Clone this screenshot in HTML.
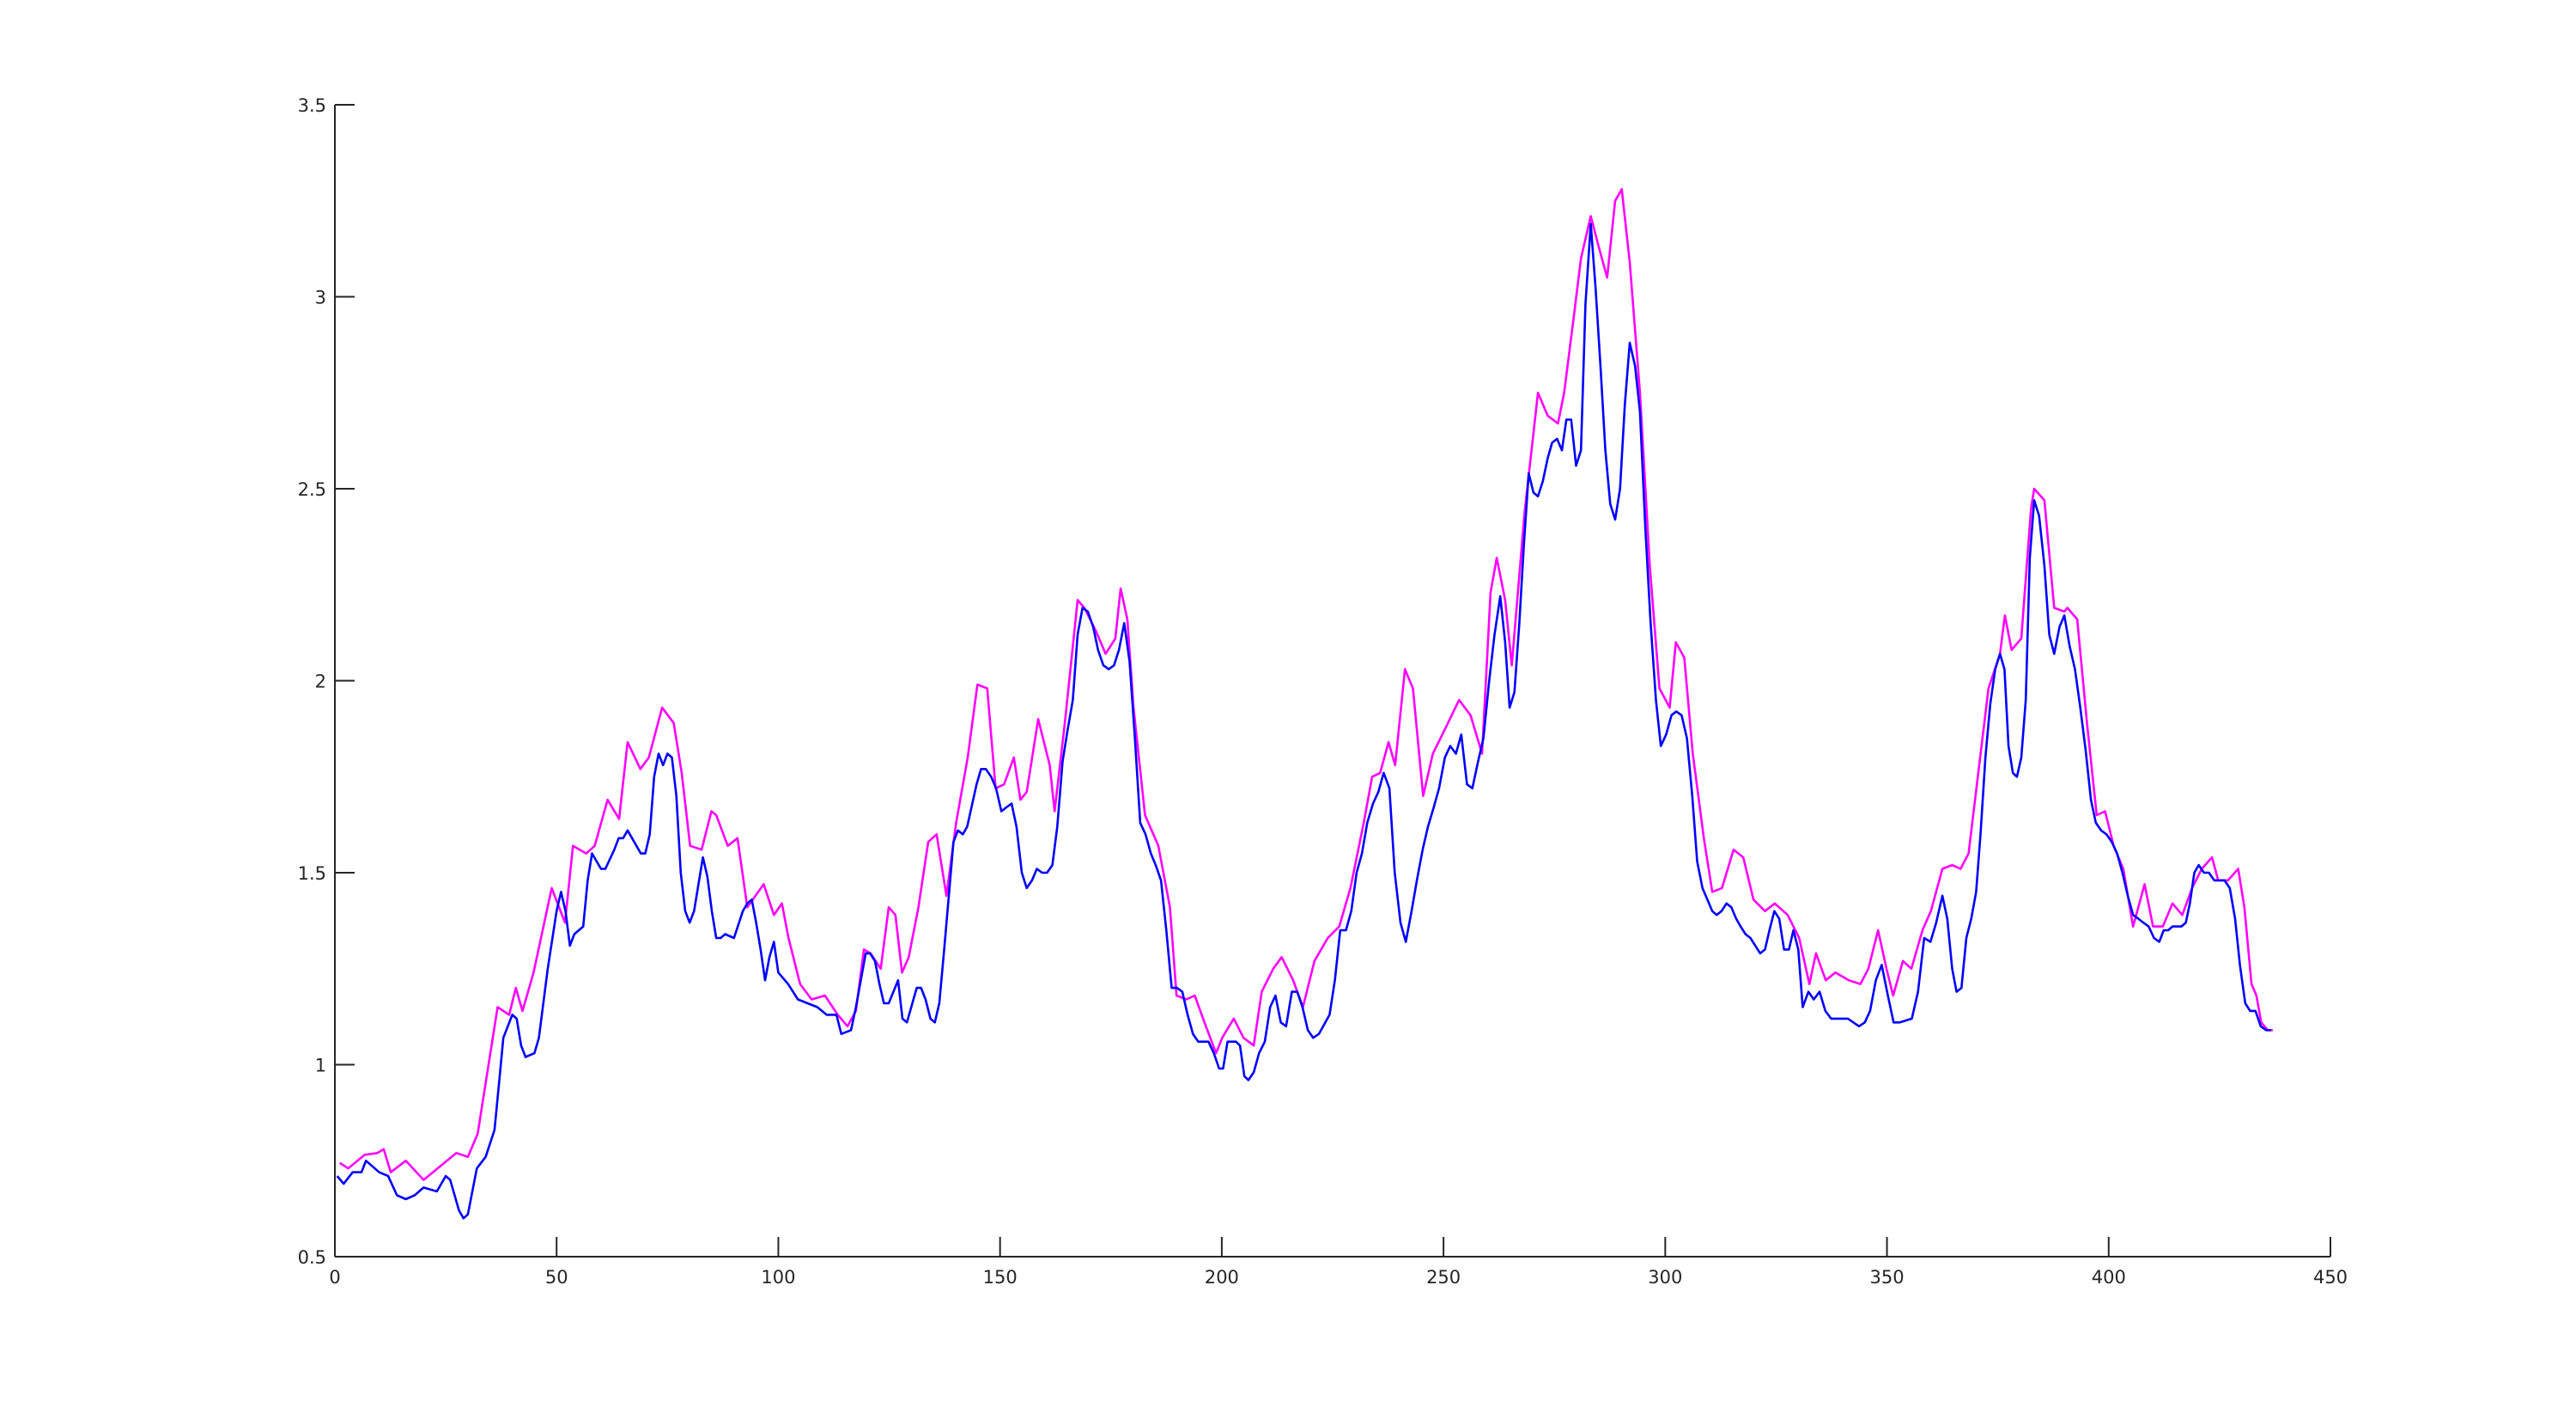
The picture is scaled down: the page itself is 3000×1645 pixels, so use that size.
<!DOCTYPE html>
<html><head><meta charset="utf-8"><style>
html,body{margin:0;padding:0;background:#fff;}
svg{display:block;font-family:"DejaVu Sans","Liberation Sans",sans-serif;}
</style></head><body>
<svg id="chart" width="3000" height="1645" viewBox="0 0 3000 1645" xmlns="http://www.w3.org/2000/svg">
<rect width="3000" height="1645" fill="#fff"/>
<g id="axes"></g>
<g id="series"></g>
</svg>
<script>
const xTicks = [0,50,100,150,200,250,300,350,400,450];
const yTicks = [0.5,1,1.5,2,2.5,3,3.5];
const yTickLabels = ["0.5","1","1.5","2","2.5","3","3.5"];
const blueX = [0.5,2,4,6,7,10,12,14,16,18,20,23,25,26,28,29,30,32,34,36,37,38,40,41,42,43,45,46,48,50,51,52,53,54,56,57,58,60,61,63,64,65,66,68,69,70,71,72,73,74,75,76,77,78,79,80,81,83,84,85,86,87,88,90,92,93,94,95,96,97,98,99,100,102.2,104.4,106.6,108.8,110.9,113.1,114.2,116.4,117.5,119.7,120.7,121.8,122.8,123.8,124.9,127,128,129,131.2,132.2,133.2,134.3,135.3,136.3,137.4,139.5,140.5,141.6,142.6,144.7,145.7,146.8,148,149.1,150.3,151.4,152.6,153.7,154.9,156,157.2,158.3,159.5,160.6,161.8,162.9,164.1,165.2,166.4,167.5,168.6,169.8,171,172.1,173.3,174.5,175.7,176.8,178,179.2,180.4,181.6,182.8,184,185.1,186.3,187.5,188.7,189.9,191.1,192.3,193.5,194.7,195.9,197,198.2,199.4,200.3,201.3,202.2,203.2,204.1,205.1,206,207.2,208.4,209.7,210.9,212.1,213.3,214.5,215.8,217,218.2,219.4,220.6,221.9,224.3,225.5,226.7,228,229.2,230.4,231.6,232.8,234.1,235.3,236.5,237.8,239,240.3,241.5,242.8,244,245.3,246.5,247.8,249,250.3,251.5,252.8,254,255.3,256.5,257.8,259,260.3,261.5,262.8,263.9,264.9,266,267.1,268.1,269.2,270.3,271.3,272.4,273.5,274.5,275.6,276.7,277.7,278.8,279.9,281,282,283.2,284.3,285.4,286.5,287.6,288.7,289.8,290.9,292,293.2,294.3,295.5,296.7,297.9,299,300.2,301.4,302.5,303.7,304.9,306.1,307.2,308.4,309.5,310.6,311.6,312.7,313.8,314.9,316,317,318.1,319.2,320.3,321.4,322.5,323.5,324.6,325.7,326.8,327.9,328.9,330,331,332.3,333.5,334.8,336.1,337.4,338.6,341.2,343.7,345,346.2,347.5,348.8,350.2,351.5,352.9,355.6,357,358.4,359.8,361.1,362.5,363.6,364.7,365.7,366.8,367.9,369,370.1,371.1,372.2,373.3,374.4,375.5,376.5,377.4,378.4,379.3,380.3,381.3,382.2,383.2,384.3,385.5,386.6,387.7,388.9,390,391.2,392.4,393.6,394.8,396,397.1,398.3,399.5,400.7,401.9,403.1,404.3,405.5,406.7,407.8,409,410.2,411.4,412.4,413.4,414.4,416.4,417.4,418.3,419.3,420.3,421.5,422.6,423.8,425,426.1,427.3,428.5,429.6,430.8,431.9,433.1,434.3,435.5,436.6];
const blueY = [0.71,0.69,0.72,0.72,0.75,0.72,0.71,0.66,0.65,0.66,0.68,0.67,0.71,0.70,0.62,0.60,0.61,0.73,0.76,0.83,0.95,1.07,1.13,1.12,1.05,1.02,1.03,1.07,1.25,1.40,1.45,1.40,1.31,1.34,1.36,1.48,1.55,1.51,1.51,1.56,1.59,1.59,1.61,1.57,1.55,1.55,1.60,1.75,1.81,1.78,1.81,1.80,1.70,1.50,1.40,1.37,1.40,1.54,1.49,1.40,1.33,1.33,1.34,1.33,1.40,1.42,1.43,1.37,1.30,1.22,1.28,1.32,1.24,1.21,1.17,1.16,1.15,1.13,1.13,1.08,1.09,1.15,1.29,1.29,1.27,1.21,1.16,1.16,1.22,1.12,1.11,1.20,1.20,1.17,1.12,1.11,1.16,1.30,1.58,1.61,1.60,1.62,1.73,1.77,1.77,1.75,1.72,1.66,1.67,1.68,1.62,1.50,1.46,1.48,1.51,1.50,1.50,1.52,1.62,1.79,1.87,1.95,2.12,2.19,2.18,2.14,2.08,2.04,2.03,2.04,2.08,2.15,2.05,1.85,1.63,1.60,1.55,1.52,1.48,1.35,1.20,1.20,1.19,1.13,1.08,1.06,1.06,1.06,1.03,0.99,0.99,1.06,1.06,1.06,1.05,0.97,0.96,0.98,1.03,1.06,1.15,1.18,1.11,1.10,1.19,1.19,1.15,1.09,1.07,1.08,1.13,1.22,1.35,1.35,1.40,1.50,1.55,1.63,1.68,1.71,1.76,1.72,1.50,1.37,1.32,1.40,1.48,1.56,1.62,1.67,1.72,1.80,1.83,1.81,1.86,1.73,1.72,1.79,1.85,2.00,2.12,2.22,2.10,1.93,1.97,2.15,2.35,2.54,2.49,2.48,2.52,2.58,2.62,2.63,2.60,2.68,2.68,2.56,2.60,2.98,3.19,3.02,2.82,2.60,2.46,2.42,2.50,2.72,2.88,2.82,2.70,2.40,2.15,1.95,1.83,1.86,1.91,1.92,1.91,1.85,1.70,1.53,1.46,1.43,1.40,1.39,1.40,1.42,1.41,1.38,1.36,1.34,1.33,1.31,1.29,1.30,1.35,1.40,1.38,1.30,1.30,1.35,1.30,1.15,1.19,1.17,1.19,1.14,1.12,1.12,1.12,1.10,1.11,1.14,1.22,1.26,1.18,1.11,1.11,1.12,1.19,1.33,1.32,1.37,1.44,1.38,1.25,1.19,1.20,1.33,1.38,1.45,1.60,1.80,1.94,2.03,2.07,2.03,1.83,1.76,1.75,1.80,1.95,2.32,2.47,2.43,2.30,2.12,2.07,2.14,2.17,2.09,2.03,1.93,1.82,1.69,1.63,1.61,1.60,1.58,1.55,1.50,1.44,1.39,1.38,1.37,1.36,1.33,1.32,1.35,1.35,1.36,1.36,1.37,1.42,1.50,1.52,1.50,1.50,1.48,1.48,1.48,1.46,1.38,1.26,1.16,1.14,1.14,1.10,1.09,1.09];
const magX = [1.1,3,6.7,9.6,11,12.6,16,20,23.7,27.4,30,32.2,36.7,39.3,40.8,42.3,44.8,48.9,51.9,53.7,56.7,58.6,61.5,64.1,66,68.9,70.8,73.8,76.4,78.2,80.1,82.7,84.9,86,88.6,90.8,93,96.7,99,100.8,102.3,104.9,107.5,110.5,113.4,115.6,117.5,119.3,120.8,123.1,124.9,126.4,127.9,129.4,131.6,133.8,135.7,137.9,140.1,142.7,144.9,147.1,149,150.9,153.1,154.6,156,158.6,161.2,162.3,164.6,167.5,169,171.6,173.8,176,177.2,178.7,180.1,182.7,185.7,188.3,189.8,192,193.9,196.1,198.7,200.1,202.7,204.9,207.2,209,211.6,213.5,216.1,218.3,220.9,223.9,226.5,229,232,233.9,235.7,237.6,239.1,241.3,243.1,245.4,247.6,250.6,253.5,256.1,258.7,260.6,262,263.9,265.4,268.3,271.3,273.5,275.8,277.2,279.5,281,283.2,285,286.9,288.7,290.2,292,294.3,296.5,298.7,301,302.4,304.3,306.2,308.7,310.6,312.8,315.4,317.6,319.9,322.5,324.7,327.6,330.2,332.5,334,336.2,338.4,341.4,344,345.8,348,349.9,351.4,353.6,355.5,358,359.9,362.5,364.7,366.6,368.4,370.6,372.9,375.5,376.6,378.1,380.3,382.5,383.2,385.5,387.7,390,390.7,392.9,395.1,397.3,399.2,401.1,403.3,405.5,408.1,410,412.2,414.4,416.6,418.8,421,423.3,424.7,426.9,429.2,430.6,432.2,433.3,434.4,435.9,437];
const magY = [0.744,0.73,0.765,0.77,0.78,0.72,0.75,0.70,0.735,0.77,0.76,0.82,1.15,1.13,1.20,1.14,1.24,1.46,1.37,1.57,1.55,1.57,1.69,1.64,1.84,1.77,1.80,1.93,1.89,1.76,1.57,1.56,1.66,1.65,1.57,1.59,1.41,1.47,1.39,1.42,1.33,1.21,1.17,1.18,1.13,1.10,1.14,1.30,1.29,1.25,1.41,1.39,1.24,1.28,1.41,1.58,1.60,1.44,1.63,1.80,1.99,1.98,1.72,1.73,1.80,1.69,1.71,1.90,1.78,1.66,1.89,2.21,2.19,2.13,2.07,2.11,2.24,2.16,1.93,1.65,1.57,1.41,1.18,1.17,1.18,1.11,1.03,1.07,1.12,1.07,1.05,1.19,1.25,1.28,1.22,1.15,1.27,1.33,1.36,1.46,1.63,1.75,1.76,1.84,1.78,2.03,1.98,1.70,1.81,1.88,1.95,1.91,1.81,2.23,2.32,2.21,2.04,2.44,2.75,2.69,2.67,2.75,2.96,3.10,3.21,3.13,3.05,3.25,3.28,3.09,2.75,2.30,1.98,1.93,2.10,2.06,1.81,1.59,1.45,1.46,1.56,1.54,1.43,1.40,1.42,1.39,1.33,1.21,1.29,1.22,1.24,1.22,1.21,1.25,1.35,1.25,1.18,1.27,1.25,1.35,1.40,1.51,1.52,1.51,1.55,1.76,1.98,2.07,2.17,2.08,2.11,2.45,2.50,2.47,2.19,2.18,2.19,2.16,1.89,1.65,1.66,1.57,1.51,1.36,1.47,1.36,1.36,1.42,1.39,1.46,1.51,1.54,1.48,1.48,1.51,1.41,1.21,1.18,1.11,1.09,1.09];

const NS = "http://www.w3.org/2000/svg";
const L = 390, R = 2714, T = 122, B = 1463;
const X0 = 0, X1 = 450, Y0 = 0.5, Y1 = 3.5;
function sx(v){ return L + (v - X0) / (X1 - X0) * (R - L); }
function sy(v){ return B - (v - Y0) / (Y1 - Y0) * (B - T); }
function mk(tag, attrs, parent){
  const e = document.createElementNS(NS, tag);
  for (const k in attrs) e.setAttribute(k, attrs[k]);
  parent.appendChild(e); return e;
}
const axes = document.getElementById('axes');
const series = document.getElementById('series');
const stroke = '#262626';

const yAxis = mk('line', {x1:L, y1:T, x2:L, y2:B, stroke:stroke, 'stroke-width':2}, axes);


const xAxis = mk('line', {x1:L, y1:B, x2:R, y2:B, stroke:stroke, 'stroke-width':2}, axes);



xTicks.forEach(function(t){
  const x = sx(t);
  const tk = mk('line', {x1:x, y1:B, x2:x, y2:B-23, stroke:stroke, 'stroke-width':2}, axes);
  
  
  const tx = mk('text', {x:x, y:B+31, 'text-anchor':'middle', 'font-size':21, fill:stroke}, axes);
  tx.textContent = String(t);
  
  
});
yTicks.forEach(function(t, i){
  const y = sy(t);
  const tk = mk('line', {x1:L, y1:y, x2:L+23, y2:y, stroke:stroke, 'stroke-width':2}, axes);
  
  
  const tx = mk('text', {x:L-10, y:y+8, 'text-anchor':'end', 'font-size':21, fill:stroke}, axes);
  tx.textContent = yTickLabels[i];
  
  
});

function line(xs, ys, color, name){
  const d = xs.map(function(x, i){ return (i ? 'L' : 'M') + sx(x).toFixed(1) + ' ' + sy(ys[i]).toFixed(1); }).join(' ');
  const p = mk('path', {d:d, fill:'none', stroke:color, 'stroke-width':2.6, 'stroke-linejoin':'round'}, series);
  
  
}
line(magX, magY, '#ff00ff', 'magenta-series-line');
line(blueX, blueY, '#0000ff', 'blue-series-line');
</script>
</body></html>
